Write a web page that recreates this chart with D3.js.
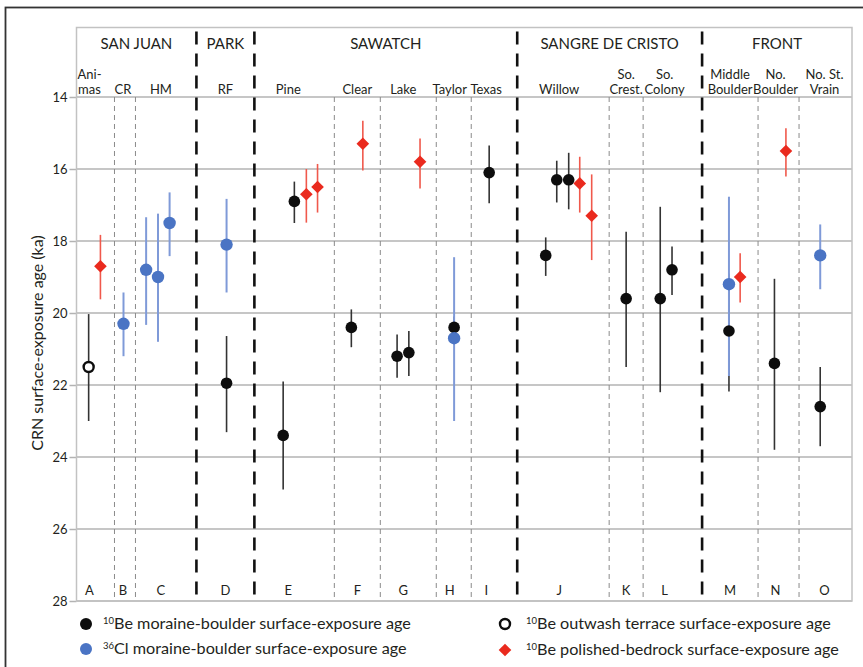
<!DOCTYPE html>
<html>
<head>
<meta charset="utf-8">
<script src="https://cdn.jsdelivr.net/npm/d3@7"></script>
<style>
  html, body { margin: 0; padding: 0; background: #fff; }
  svg { display: block; }
  text { font-family: Lato, "Open Sans", "Noto Sans", sans-serif; fill: #231f20; }
</style>
</head>
<body>
<svg id="chart" width="863" height="667"></svg>
<script>
// ---------------- DATA ----------------
const columns = ["A","B","C","D","E","F","G","H","I","J","K","L","M","N","O"];
const siteNames = [["Ani-","mas"],["CR"],["HM"],["RF"],["Pine"],["Clear"],["Lake"],["Taylor"],["Texas"],
                   ["Willow"],["So.","Crest."],["So.","Colony"],["Middle","Boulder"],["No.","Boulder"],["No. St.","Vrain"]];
const ranges = ["SAN JUAN","PARK","SAWATCH","SANGRE DE CRISTO","FRONT"];
const rangeFirstCol = ["A","D","E","J","M"];
const rangeLastCol  = ["C","D","I","L","O"];
const yTicks = [14,16,18,20,22,24,26,28];

// each point: column, slot within column (0-1), age (ka), lower, upper
const be10Moraine = [
  ["D",0.52,21.95,20.64,23.31],
  ["E",0.36,23.4,21.9,24.9],
  ["E",0.50,16.9,16.35,17.5],
  ["F",0.37,20.4,19.9,20.95],
  ["G",0.30,21.2,20.6,21.8],
  ["G",0.51,21.1,20.5,21.75],
  ["H",0.51,20.4,20.1,20.7],
  ["I",0.39,16.1,15.35,16.95],
  ["J",0.31,18.4,17.9,18.97],
  ["J",0.43,16.3,15.77,16.93],
  ["J",0.56,16.3,15.55,17.12],
  ["K",0.50,19.6,17.74,21.5],
  ["L",0.29,19.6,17.05,22.2],
  ["L",0.49,18.8,18.15,19.5],
  ["M",0.48,20.5,18.9,22.18],
  ["N",0.40,21.4,19.05,23.8],
  ["O",0.40,22.6,21.5,23.7]
];
const cl36Moraine = [
  ["B",0.43,20.3,19.43,21.2],
  ["C",0.175,18.8,17.34,20.33],
  ["C",0.37,19.0,17.24,20.8],
  ["C",0.56,17.5,16.65,18.42],
  ["D",0.52,18.1,16.83,19.43],
  ["H",0.51,20.7,18.45,23.0],
  ["M",0.48,19.2,16.77,21.75],
  ["O",0.40,18.4,17.54,19.34]
];
const be10Outwash = [
  ["A",0.32,21.5,20.03,23.0]
];
const be10Bedrock = [
  ["A",0.63,18.7,17.83,19.62],
  ["E",0.65,16.7,16.0,17.49],
  ["E",0.79,16.5,15.86,17.21],
  ["F",0.62,15.3,14.66,16.04],
  ["G",0.71,15.8,15.15,16.54],
  ["J",0.68,16.4,15.66,17.21],
  ["J",0.81,17.3,16.15,18.53],
  ["M",0.68,19.0,18.34,19.71],
  ["N",0.68,15.5,14.87,16.21]
];

// ---------------- LAYOUT ----------------
const colWidths = [38,21,61,58,80,46,56,35,46,92,34,59,56,41,53]; // relative widths
const labelDx   = [-6,-2,-5,0,-6,0,-5,-4,-8,-4,0,-8,0,-3,-1]; // label nudges (px)
const colStart = [];
colWidths.reduce((acc,w,i)=>{ colStart[i]=acc; return acc+w; },0);
const totalW = d3.sum(colWidths);

const L = 76.5, R = 852, T = 27.5, B = 601;
const x = d3.scaleLinear().domain([0,totalW]).range([L,R]);
const y = d3.scaleLinear().domain([14,28]).range([97,B]);
const ci = c => columns.indexOf(c);
const colX = (c,f) => x(colStart[ci(c)] + f*colWidths[ci(c)]);
const colLeft = c => x(colStart[ci(c)]);
const colRight = c => x(colStart[ci(c)] + colWidths[ci(c)]);

const svg = d3.select("#chart");

// outer frame
svg.append("rect").attr("x",5.5).attr("y",7.5).attr("width",900).attr("height",700)
  .attr("fill","none").attr("stroke","#333").attr("stroke-width",1.8);

// gridlines
svg.append("g").selectAll("line").data(yTicks).join("line")
  .attr("x1",L).attr("x2",R).attr("y1",d=>y(d)).attr("y2",d=>y(d))
  .attr("stroke","#b3b3b3").attr("stroke-width",1.5);

// y axis
const yAxis = d3.axisLeft(y).tickValues(yTicks).tickSize(7).tickPadding(2).tickFormat(d3.format("d"));
const ga = svg.append("g").attr("transform",`translate(${L},0)`).call(yAxis);
ga.select(".domain").remove();
ga.selectAll(".tick line").attr("stroke","#b3b3b3").attr("stroke-width",1.5);
ga.selectAll(".tick text").attr("font-size",13).attr("font-family","Lato, sans-serif").attr("fill","#231f20");

// plot border
svg.append("rect").attr("x",L).attr("y",T).attr("width",R-L).attr("height",B-T)
  .attr("fill","none").attr("stroke","#c2c2c2").attr("stroke-width",1.5);

// column separators
const thinSeps = [];
const thickSeps = [];
columns.forEach((c,i)=>{
  if(i===0) return;
  if (rangeFirstCol.includes(c)) thickSeps.push(colLeft(c)); else thinSeps.push(colLeft(c));
});
svg.append("g").selectAll("line").data(thinSeps).join("line")
  .attr("x1",d=>d).attr("x2",d=>d).attr("y1",y(14)).attr("y2",B)
  .attr("stroke","#8a8a8a").attr("stroke-width",1).attr("stroke-dasharray","5,4");
svg.append("g").selectAll("line").data(thickSeps).join("line")
  .attr("x1",d=>d).attr("x2",d=>d).attr("y1",T+4).attr("y2",B)
  .attr("stroke","#111").attr("stroke-width",2.6).attr("stroke-dasharray","13,9");

// range titles
svg.append("g").selectAll("text").data(ranges).join("text")
  .attr("x",(d,i)=>(colLeft(rangeFirstCol[i])+colRight(rangeLastCol[i]))/2)
  .attr("y",49).attr("text-anchor","middle").attr("font-size",15).text(d=>d);

// site names
const sn = svg.append("g");
siteNames.forEach((lines,i)=>{
  const cx = colX(columns[i],0.5) + labelDx[i];
  lines.forEach((s,j)=>{
    sn.append("text").attr("x",cx).attr("y",94 - (lines.length-1-j)*15)
      .attr("text-anchor","middle").attr("font-size",13).text(s);
  });
});

// column letters
svg.append("g").selectAll("text").data(columns).join("text")
  .attr("x",(d,i)=>colX(d,0.5)+labelDx[i]).attr("y",595).attr("text-anchor","middle").attr("font-size",13).text(d=>d);

// y title
svg.append("text").attr("transform",`translate(43,${(y(14)+y(28))/2 - 6}) rotate(-90)`)
  .attr("text-anchor","middle").attr("font-size",16).text("CRN surface-exposure age (ka)");

// ---------------- MARKS ----------------
const colors = {
  black:"#0d0d0d", blackBar:"#333", blue:"#4a74c4", blueBar:"#7f9ad8", red:"#ea2a1e", redBar:"#f0594c"
};
function bars(data, color, w){
  svg.append("g").selectAll("line").data(data).join("line")
    .attr("x1",d=>colX(d[0],d[1])).attr("x2",d=>colX(d[0],d[1]))
    .attr("y1",d=>y(d[3])).attr("y2",d=>y(d[4]))
    .attr("stroke",color).attr("stroke-width",w);
}
bars(be10Moraine, colors.blackBar, 1.6);
bars(be10Outwash, colors.blackBar, 1.6);
bars(cl36Moraine, colors.blueBar, 2);
bars(be10Bedrock, colors.redBar, 1.6);

svg.append("g").selectAll("circle").data(be10Moraine).join("circle")
  .attr("cx",d=>colX(d[0],d[1])).attr("cy",d=>y(d[2])).attr("r",5.8).attr("fill",colors.black);
svg.append("g").selectAll("circle").data(be10Outwash).join("circle")
  .attr("cx",d=>colX(d[0],d[1])).attr("cy",d=>y(d[2])).attr("r",5).attr("fill","#fff")
  .attr("stroke",colors.black).attr("stroke-width",2.4);
svg.append("g").selectAll("circle").data(cl36Moraine).join("circle")
  .attr("cx",d=>colX(d[0],d[1])).attr("cy",d=>y(d[2])).attr("r",6.2).attr("fill",colors.blue);
const diamond = d3.symbol().type(d3.symbolSquare).size(80);
svg.append("g").selectAll("path").data(be10Bedrock).join("path")
  .attr("d",diamond)
  .attr("transform",d=>`translate(${colX(d[0],d[1])},${y(d[2])}) rotate(45)`)
  .attr("fill",colors.red);

// ---------------- LEGEND ----------------
const legend = [
  {type:"black", sup:"10", label:"Be moraine-boulder surface-exposure age", mx:86, my:624, tx:103},
  {type:"blue", sup:"36", label:"Cl moraine-boulder surface-exposure age", mx:86, my:649, tx:103},
  {type:"open", sup:"10", label:"Be outwash terrace surface-exposure age", mx:505, my:624, tx:526},
  {type:"red", sup:"10", label:"Be polished-bedrock surface-exposure age", mx:505, my:650, tx:526}
];
const lg = svg.append("g");
legend.forEach(d=>{
  if(d.type==="black") lg.append("circle").attr("cx",d.mx).attr("cy",d.my).attr("r",6).attr("fill",colors.black);
  if(d.type==="blue") lg.append("circle").attr("cx",d.mx).attr("cy",d.my).attr("r",6).attr("fill",colors.blue);
  if(d.type==="open") lg.append("circle").attr("cx",d.mx).attr("cy",d.my).attr("r",5).attr("fill","#fff")
      .attr("stroke",colors.black).attr("stroke-width",2.4);
  if(d.type==="red") lg.append("path").attr("d",diamond)
      .attr("transform",`translate(${d.mx},${d.my}) rotate(45)`).attr("fill",colors.red);
  const t = lg.append("text").attr("x",d.tx).attr("y",d.my+5).attr("font-size",16.2);
  t.append("tspan").attr("font-size",9.5).attr("dy",-5).text(d.sup);
  t.append("tspan").attr("dy",5).text(d.label);
});
</script>
</body>
</html>
